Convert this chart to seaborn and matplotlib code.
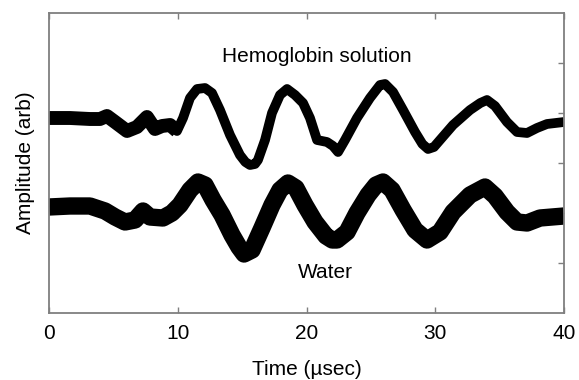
import matplotlib
matplotlib.use("Agg")
import matplotlib.pyplot as plt
import seaborn as sns
import pandas as pd

# Hemoglobin solution trace (time in µs, amplitude arb)
hemo_time = [0, 1.63, 3.18, 3.96, 4.50, 5.13, 6.06, 6.83, 7.61, 8.23, 8.78, 9.40, 9.94,
             10.41, 10.95, 11.50, 12.12, 12.66, 13.28, 14.06, 14.83, 15.25, 15.61, 16.0, 16.23,
             16.78, 17.32, 17.94, 18.49, 19.11, 19.73, 20.27, 20.82, 21.59, 22.06, 22.45,
             22.99, 23.92, 24.93, 25.71, 26.10, 26.72, 27.50, 28.43, 29.0, 29.44, 29.9, 30.37,
             31.38, 32.70, 33.5, 34.02, 34.64, 35.57, 36.35, 37.13, 37.90, 38.68, 40.0]
hemo_amp = [3.90, 3.90, 3.88, 3.88, 3.94, 3.82, 3.64, 3.72, 3.92, 3.68, 3.74, 3.76, 3.64,
            3.90, 4.30, 4.48, 4.50, 4.40, 4.06, 3.56, 3.16, 3.02, 2.96, 2.98, 3.06,
            3.46, 4.00, 4.36, 4.48, 4.36, 4.20, 3.90, 3.46, 3.42, 3.34, 3.22,
            3.46, 3.90, 4.30, 4.56, 4.58, 4.42, 4.06, 3.62, 3.38, 3.28, 3.32, 3.46,
            3.76, 4.06, 4.20, 4.26, 4.14, 3.82, 3.62, 3.60, 3.70, 3.78, 3.82]

# Water trace
water_time = [0, 1.63, 3.18, 4.35, 5.13, 5.90, 6.68, 7.30, 7.84, 8.85, 9.55, 10.17, 10.95,
              11.57, 12.12, 12.74, 13.44, 14.21, 14.75, 15.15, 15.77, 16.54, 17.32, 17.94,
              18.56, 19.18, 19.88, 20.66, 21.51, 22.0, 22.37, 23.15, 23.92, 24.78, 25.40,
              25.94, 26.64, 27.50, 28.43, 29.36, 30.37, 31.38, 32.70, 33.86, 34.64, 35.57,
              36.35, 37.13, 38.14, 40.0]
water_amp = [2.12, 2.14, 2.14, 2.04, 1.92, 1.82, 1.86, 2.04, 1.92, 1.90, 2.00, 2.16, 2.46,
             2.62, 2.56, 2.26, 1.96, 1.56, 1.32, 1.18, 1.26, 1.70, 2.16, 2.46,
             2.60, 2.50, 2.16, 1.82, 1.54, 1.46, 1.46, 1.62, 2.00, 2.36, 2.56,
             2.62, 2.46, 2.06, 1.66, 1.46, 1.62, 2.02, 2.36, 2.52, 2.34, 2.02,
             1.82, 1.80, 1.90, 1.94]

x_ticks = [0, 10, 20, 30, 40]
y_ticks = [1, 2, 3, 4, 5]

hemo = pd.DataFrame({"time": hemo_time, "amp": hemo_amp})
water = pd.DataFrame({"time": water_time, "amp": water_amp})

sns.set_style("white")
plt.rcParams["font.family"] = ["Liberation Sans", "DejaVu Sans"]
plt.rcParams["text.color"] = "black"
plt.rcParams["axes.labelcolor"] = "black"

fig = plt.figure(figsize=(5.79, 3.80), dpi=100)
ax = fig.add_axes([49 / 579, 67 / 380, 515 / 579, 300 / 380])

kw = dict(x="time", y="amp", color="black", sort=False, estimator=None, ax=ax,
          solid_joinstyle="round", solid_capstyle="butt")
sns.lineplot(data=water, linewidth=12.5, **kw)
sns.lineplot(data=hemo, linewidth=7, **kw)
sns.lineplot(data=hemo[hemo["time"] <= 10], linewidth=10, **kw)

ax.set_xlim(0, 40)
ax.set_ylim(0, 6)
ax.set_xticks(x_ticks)
ax.set_xticklabels([str(t) for t in x_ticks])
ax.set_yticks(y_ticks)
ax.set_yticklabels([])

gray = "#7f7f7f"
for s in ax.spines.values():
    s.set_visible(True)
    s.set_color(gray)
    s.set_linewidth(1.3)

ax.tick_params(axis="x", direction="in", length=4, width=1, color=gray,
               top=True, bottom=True, labelsize=15, pad=8, labelcolor="black")
ax.tick_params(axis="y", direction="in", length=4, width=1, color=gray,
               left=False, right=True, labelleft=False)

ax.set_xlabel("Time (µsec)", fontsize=15, labelpad=12)
ax.set_ylabel("Amplitude (arb)", fontsize=15, labelpad=10)

ax.text(20.8, 5.02, "Hemoglobin solution", fontsize=15, ha="center", va="baseline")
ax.text(21.5, 0.70, "Water", fontsize=15, ha="center", va="baseline")

fig.savefig("out.png", dpi=100)
